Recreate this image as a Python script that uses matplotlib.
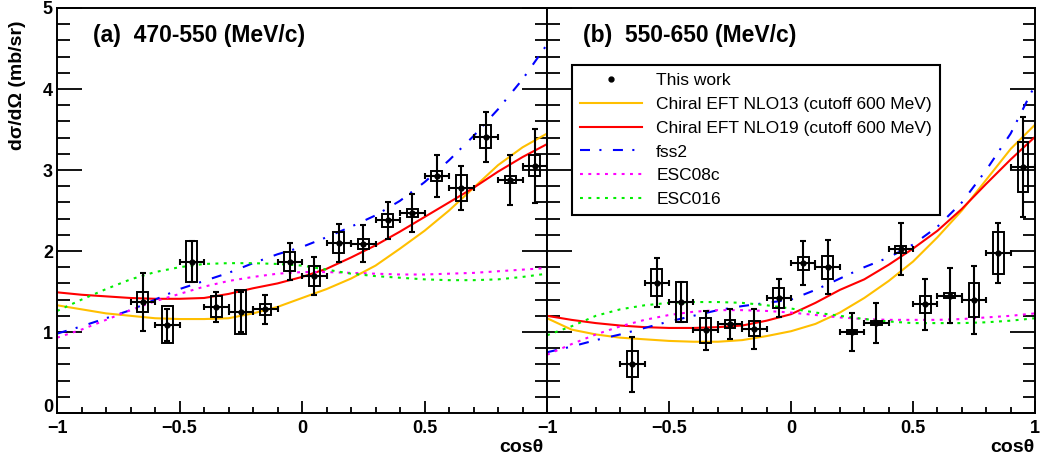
import matplotlib
matplotlib.use('Agg')
import matplotlib.pyplot as plt
from matplotlib.lines import Line2D
from matplotlib.ticker import MultipleLocator, FuncFormatter

plt.rcParams['font.family'] = ['Liberation Sans', 'DejaVu Sans']

# measured cross sections, cos(theta) bin centres
cos_bins = [-0.65, -0.55, -0.45, -0.35, -0.25, -0.15, -0.05, 0.05, 0.15,
            0.25, 0.35, 0.45, 0.55, 0.65, 0.75, 0.85, 0.95]

xsec_a = [1.37, 1.09, 1.87, 1.31, 1.25, 1.28, 1.87, 1.69, 2.10,
          2.09, 2.38, 2.47, 2.93, 2.78, 3.41, 2.88, 3.05]
stat_a = [0.36, 0.20, 0.25, 0.19, 0.25, 0.18, 0.23, 0.23, 0.23,
          0.23, 0.23, 0.23, 0.26, 0.27, 0.31, 0.31, 0.46]
sys_a = [0.12, 0.23, 0.25, 0.13, 0.27, 0.07, 0.12, 0.12, 0.13,
         0.06, 0.08, 0.05, 0.06, 0.16, 0.14, 0.04, 0.13]

xsec_b = [0.60, 1.61, 1.37, 1.02, 1.10, 1.04, 1.42, 1.85, 1.80,
          1.00, 1.11, 2.02, 1.34, 1.45, 1.40, 1.98, 3.04]
stat_b = [0.34, 0.30, 0.25, 0.24, 0.19, 0.25, 0.24, 0.27, 0.33,
          0.24, 0.25, 0.32, 0.31, 0.34, 0.42, 0.37, 0.62]
sys_b = [0.16, 0.17, 0.25, 0.15, 0.05, 0.09, 0.12, 0.08, 0.14,
         0.02, 0.02, 0.04, 0.10, 0.03, 0.21, 0.26, 0.31]

# theory curves
cos_curve = [-1.0, -0.9, -0.8, -0.7, -0.6, -0.5, -0.4, -0.3, -0.2, -0.1, 0.0,
             0.1, 0.2, 0.3, 0.4, 0.5, 0.6, 0.7, 0.8, 0.9, 1.0]

nlo13_a = [1.33, 1.28, 1.23, 1.20, 1.17, 1.16, 1.16, 1.17, 1.23, 1.31, 1.42,
           1.53, 1.66, 1.82, 2.03, 2.25, 2.50, 2.78, 3.06, 3.28, 3.45]
nlo19_a = [1.49, 1.46, 1.44, 1.42, 1.41, 1.41, 1.42, 1.47, 1.54, 1.60, 1.68,
           1.78, 1.92, 2.07, 2.24, 2.42, 2.60, 2.78, 2.98, 3.16, 3.32]
fss2_a = [0.98, 1.07, 1.17, 1.27, 1.40, 1.53, 1.63, 1.73, 1.85, 1.96, 2.05,
          2.17, 2.30, 2.44, 2.62, 2.85, 3.12, 3.42, 3.75, 4.12, 4.55]
esc08c_a = [0.93, 1.03, 1.15, 1.27, 1.38, 1.47, 1.56, 1.63, 1.68, 1.72, 1.74,
            1.74, 1.73, 1.72, 1.71, 1.71, 1.72, 1.73, 1.75, 1.77, 1.79]
esc016_a = [1.26, 1.40, 1.53, 1.65, 1.74, 1.80, 1.84, 1.85, 1.85, 1.84, 1.82,
            1.77, 1.72, 1.69, 1.67, 1.65, 1.64, 1.64, 1.65, 1.68, 1.72]

nlo13_b = [1.17, 1.03, 0.97, 0.93, 0.91, 0.89, 0.88, 0.88, 0.90, 0.95, 1.01,
           1.10, 1.24, 1.42, 1.63, 1.87, 2.17, 2.50, 2.88, 3.26, 3.56]
nlo19_b = [1.20, 1.15, 1.11, 1.08, 1.06, 1.05, 1.05, 1.06, 1.08, 1.14, 1.22,
           1.36, 1.52, 1.65, 1.83, 2.03, 2.25, 2.52, 2.83, 3.13, 3.41]
fss2_b = [0.75, 0.82, 0.90, 0.97, 1.05, 1.13, 1.20, 1.27, 1.32, 1.36, 1.40,
          1.52, 1.66, 1.80, 1.92, 2.08, 2.30, 2.60, 3.00, 3.45, 4.05]
esc08c_b = [0.72, 0.85, 0.97, 1.07, 1.15, 1.21, 1.25, 1.27, 1.27, 1.26, 1.24,
            1.21, 1.18, 1.16, 1.15, 1.15, 1.15, 1.16, 1.18, 1.20, 1.23]
esc016_b = [0.96, 1.07, 1.20, 1.28, 1.33, 1.36, 1.37, 1.37, 1.36, 1.33, 1.29,
            1.24, 1.20, 1.16, 1.13, 1.11, 1.11, 1.11, 1.12, 1.14, 1.17]

titles = ['(a)  470-550 (MeV/c)', '(b)  550-650 (MeV/c)']
model_labels = ['Chiral EFT NLO13 (cutoff 600 MeV)',
                'Chiral EFT NLO19 (cutoff 600 MeV)', 'fss2', 'ESC08c', 'ESC016']

col_nlo13 = '#ffbf00'
col_nlo19 = '#ff0000'
col_fss2 = '#0000ff'
col_esc08 = '#ff00ff'
col_esc16 = '#00ee00'
dashdot = (0, (4.8, 4.5, 1.0, 5.5))
dots = (0, (1.4, 2.6))

fig = plt.figure(figsize=(10.43, 4.65), dpi=100)
ax1 = fig.add_axes([0.0547, 0.1118, 0.4698, 0.871])
ax2 = fig.add_axes([0.5245, 0.1118, 0.4679, 0.871])

panels = [
    (ax1, xsec_a, stat_a, sys_a, [nlo13_a, nlo19_a, fss2_a, esc08c_a, esc016_a]),
    (ax2, xsec_b, stat_b, sys_b, [nlo13_b, nlo19_b, fss2_b, esc08c_b, esc016_b]),
]

styles = [
    dict(color=col_nlo13, ls='-'),
    dict(color=col_nlo19, ls='-'),
    dict(color=col_fss2, ls=dashdot),
    dict(color=col_esc08, ls=dots),
    dict(color=col_esc16, ls=dots),
]

for i, (ax, xs, st, sy, curves) in enumerate(panels):
    for c, s in zip(curves, styles):
        ax.plot(cos_curve, c, lw=1.5, dash_capstyle='butt', **s)
    ax.bar(cos_bins, [2 * v for v in sy], bottom=[y - v for y, v in zip(xs, sy)],
           width=0.044, fill=False, edgecolor='black', linewidth=1.4, zorder=4)
    ax.errorbar(cos_bins, xs, yerr=st, xerr=0.05, fmt='o', color='black',
                ms=3.5, elinewidth=1.5, capsize=2, capthick=1.5, zorder=5)

    ax.set_xlim(-1, 1)
    ax.set_ylim(0, 5)
    ax.xaxis.set_major_locator(MultipleLocator(0.5))
    ax.xaxis.set_minor_locator(MultipleLocator(0.1))
    ax.yaxis.set_major_locator(MultipleLocator(1))
    ax.yaxis.set_minor_locator(MultipleLocator(0.2))
    ax.tick_params(axis='y', which='major', direction='in', length=18, width=1.3,
                   left=True, right=True, pad=3, labelsize=13)
    ax.tick_params(axis='y', which='minor', direction='in', length=9, width=1.3,
                   left=True, right=True)
    ax.tick_params(axis='x', which='major', direction='in', length=8.5, width=1.3,
                   top=False, pad=5, labelsize=13)
    ax.tick_params(axis='x', which='minor', direction='in', length=4.5, width=1.3,
                   top=False)
    for sp in ax.spines.values():
        sp.set_linewidth(1.4)

    ax.text(0.074, 0.916, titles[i], transform=ax.transAxes, fontsize=16.5,
            fontweight='bold', va='baseline', ha='left')

def fmt_left(v, pos):
    # the right panel's -1 sits where the left panel's 1 would be
    if abs(v - 1) < 1e-6:
        return ''
    return ('%g' % v).replace('-', '\u2212')

def fmt_right(v, pos):
    return ('%g' % v).replace('-', '\u2212')

def fmt_y(v, pos):
    # "0" is written by hand below, a little higher
    if abs(v) < 1e-6:
        return ''
    return '%g' % v

ax1.xaxis.set_major_formatter(FuncFormatter(fmt_left))
ax2.xaxis.set_major_formatter(FuncFormatter(fmt_right))
ax1.yaxis.set_major_formatter(FuncFormatter(fmt_y))
ax2.tick_params(axis='y', labelleft=False)
for lab in ax1.get_xticklabels() + ax2.get_xticklabels() + ax1.get_yticklabels():
    lab.set_fontweight('bold')

ax1.text(-0.008, 0.07, '0', transform=ax1.get_yaxis_transform(), fontsize=13,
         fontweight='bold', ha='right', va='center')

fig.text(0.521, 0.038, 'cos\u03b8', fontsize=14, fontweight='bold', ha='right', va='center')
fig.text(0.992, 0.038, 'cos\u03b8', fontsize=14, fontweight='bold', ha='right', va='center')
fig.text(0.017, 0.955, 'd\u03c3/d\u03a9 (mb/sr)', fontsize=14, fontweight='bold',
         rotation=90, ha='center', va='top')

handles = [Line2D([], [], ls='none', marker='o', color='black', ms=3.5)]
for s in styles:
    handles.append(Line2D([], [], lw=1.5, dash_capstyle='butt', **s))
leg = ax2.legend(handles, ['This work'] + model_labels, loc='upper left',
                 bbox_to_anchor=(0.051, 0.859), borderaxespad=0, fontsize=12.5,
                 handlelength=3.6, handletextpad=0.8, labelspacing=0.5,
                 borderpad=0.45, fancybox=False, framealpha=1, edgecolor='black')
leg.get_frame().set_linewidth(1.5)
leg.set_zorder(10)

fig.savefig('out.png', dpi=100)
